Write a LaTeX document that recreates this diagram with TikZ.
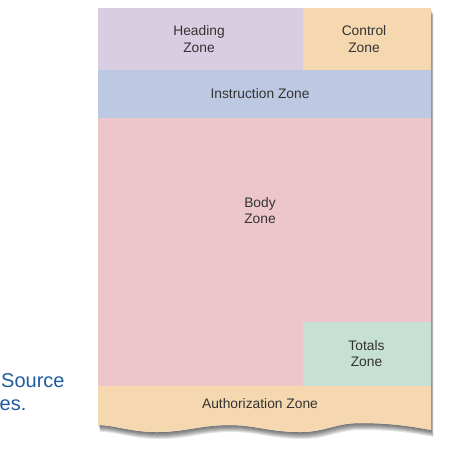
\documentclass[tikz,border=0pt]{standalone}
\usepackage{fontspec}
\setmainfont{Liberation Sans}
\usetikzlibrary{positioning}
\definecolor{ZoneLilac}{HTML}{D8CDE1}
\definecolor{ZoneSand}{HTML}{F5D8AF}
\definecolor{ZoneBlue}{HTML}{BDC9E3}
\definecolor{ZonePink}{HTML}{EDC6CC}
\definecolor{ZoneMint}{HTML}{C6E0D4}
\definecolor{ZoneText}{HTML}{333333}
\definecolor{SourceBlue}{HTML}{1F5C9E}
\tikzset{
  zonelabel/.style={
    font=\fontsize{13.8}{16.5}\selectfont,
    text=ZoneText,
    align=center,
    inner sep=0pt
  },
  sidetext/.style={
    font=\fontsize{20}{23}\selectfont,
    text=SourceBlue,
    inner sep=0pt,
    anchor=base west
  }
}
\newcommand{\formsheet}{(98,8) -- (431,8) -- (431,430)
  .. controls (400,424) and (380,423) .. (360,423)
  .. controls (335,423) and (325,432) .. (300,432)
  .. controls (270,432) and (255,425) .. (230,425)
  .. controls (200,425) and (185,432) .. (157,432)
  .. controls (130,432) and (115,425) .. (98,425) -- cycle}

\begin{document}
\begin{tikzpicture}[x=1pt,y=-1pt]
  \useasboundingbox (0,0) rectangle (454,451);

  % Soft shadow under the torn sheet.
  \foreach \d in {1,...,7}{
    \fill[black,opacity=.1,shift={(.35*\d,\d)}] \formsheet;
  }
  \fill[white] \formsheet;

  % Zones of the form.
  \begin{scope}
    \clip \formsheet;
    \fill[ZoneLilac] (98,8) rectangle (303,70);
    \fill[ZoneSand] (303,8) rectangle (431,70);
    \fill[ZoneBlue] (98,70) rectangle (431,118);
    \fill[ZonePink] (98,118) rectangle (431,386);
    \fill[ZoneMint] (303,322) rectangle (431,386);
    \fill[ZoneSand] (98,386) rectangle (431,440);
  \end{scope}

  \node[zonelabel] (heading) at (199,39) {Heading\\Zone};
  \node[zonelabel] (control) at (364,39) {Control\\Zone};
  \node[zonelabel] (instruction) at (260,94) {Instruction Zone};
  \node[zonelabel] (body) at (260,210.5) {Body\\Zone};
  \node[zonelabel] (totals) at (366.5,353.5) {Totals\\Zone};
  \node[zonelabel] (authorization) at (260,404) {Authorization Zone};

  % Text cut off at the left edge.
  \node[sidetext] (source) at (1,387) {Source};
  \node[sidetext] (sourcetail) at (-0.5,410) {es.};
\end{tikzpicture}
\end{document}
